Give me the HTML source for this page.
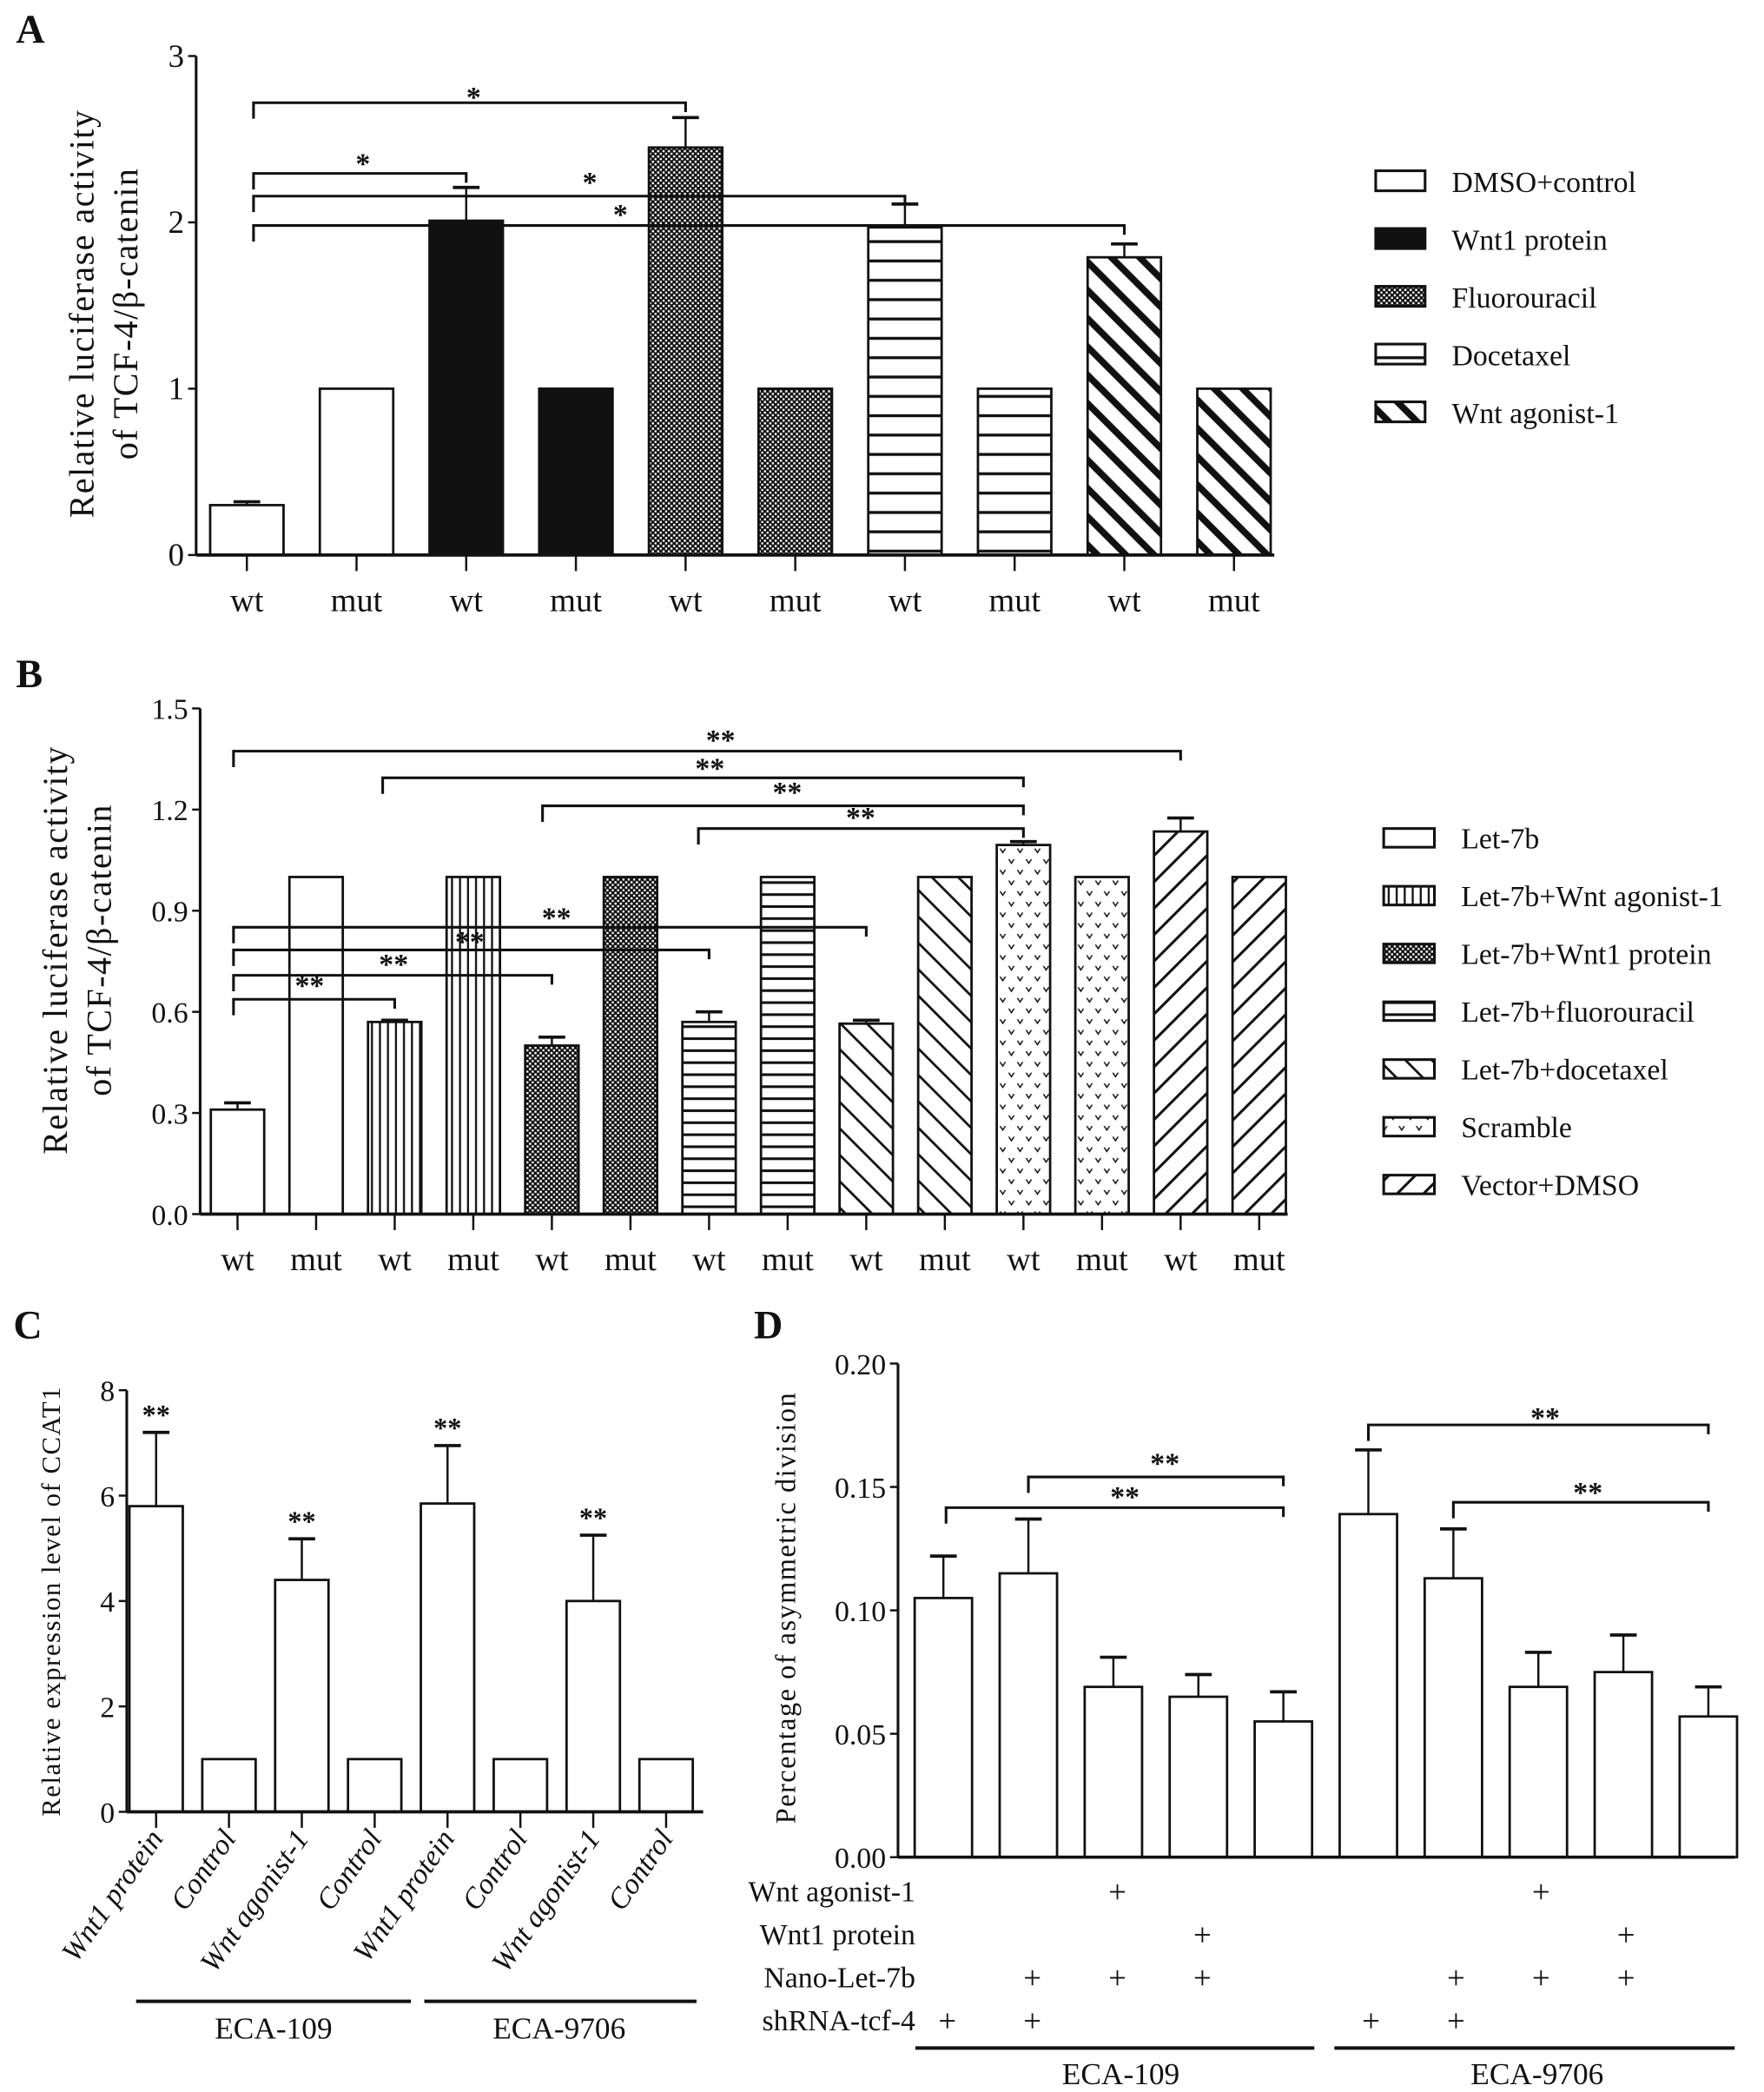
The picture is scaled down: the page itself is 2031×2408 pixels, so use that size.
<!DOCTYPE html>
<html><head><meta charset="utf-8"><style>
html,body{margin:0;padding:0;background:#fff}
svg{display:block}
text{font-family:"Liberation Serif",serif;fill:#111}
</style></head><body>
<svg id="fig" width="2031" height="2408" viewBox="0 0 1322 1568" preserveAspectRatio="none" xmlns="http://www.w3.org/2000/svg">
<defs>
<pattern id="p-check" width="4" height="4" patternUnits="userSpaceOnUse"><rect width="4" height="4" fill="#111"/><rect x="0.5" y="0.5" width="1.6" height="1.6" fill="#fff"/><rect x="2.5" y="2.5" width="1.6" height="1.6" fill="#fff"/></pattern>
<pattern id="p-hA" width="10" height="14.5" patternUnits="userSpaceOnUse"><rect width="10" height="14.5" fill="#fff"/><rect y="6" width="10" height="2.2" fill="#111"/></pattern>
<pattern id="p-hB" width="10" height="9" patternUnits="userSpaceOnUse"><rect width="10" height="9" fill="#fff"/><rect y="3.5" width="10" height="2" fill="#111"/></pattern>
<pattern id="p-bsA" width="15" height="15" patternUnits="userSpaceOnUse" patternTransform="rotate(-45)"><rect width="15" height="15" fill="#fff"/><rect x="0" width="5" height="15" fill="#111"/></pattern>
<pattern id="p-v" width="6" height="10" patternUnits="userSpaceOnUse"><rect width="6" height="10" fill="#fff"/><rect x="2" width="1.5" height="10" fill="#111"/></pattern>
<pattern id="p-bsB" width="14" height="14" patternUnits="userSpaceOnUse" patternTransform="rotate(-45)"><rect width="14" height="14" fill="#fff"/><rect width="1.8" height="14" fill="#111"/></pattern>
<pattern id="p-fsB" width="14" height="14" patternUnits="userSpaceOnUse" patternTransform="rotate(45)"><rect width="14" height="14" fill="#fff"/><rect width="2" height="14" fill="#111"/></pattern>
<pattern id="p-dots" width="13" height="16" patternUnits="userSpaceOnUse"><rect width="13" height="16" fill="#fff"/><path d="M2 4 L4 7 L6 4 M8.5 12 L10.5 15 L12.5 12" stroke="#111" stroke-width="1" fill="none"/></pattern>
</defs>
<g id="root"></g>
</svg>
<script>
// ---- Panel A data ----
const aCats = ["wt","mut","wt","mut","wt","mut","wt","mut","wt","mut"];
const aVals = [0.30,1,2.01,1,2.45,1,1.97,1,1.79,1];
const aErrs = [0.02,0,0.20,0,0.18,0,0.14,0,0.08,0];
const aTicks = ["0","1","2","3"];
const aLegend = ["DMSO+control","Wnt1 protein","Fluorouracil","Docetaxel","Wnt agonist-1"];
// ---- Panel B data ----
const bCats = ["wt","mut","wt","mut","wt","mut","wt","mut","wt","mut","wt","mut","wt","mut"];
const bVals = [0.31,1,0.57,1,0.50,1,0.57,1,0.565,1,1.095,1,1.135,1];
const bErrs = [0.02,0,0.005,0,0.025,0,0.03,0,0.01,0,0.01,0,0.04,0];
const bTicks = ["0.0","0.3","0.6","0.9","1.2","1.5"];
const bLegend = ["Let-7b","Let-7b+Wnt agonist-1","Let-7b+Wnt1 protein","Let-7b+fluorouracil","Let-7b+docetaxel","Scramble","Vector+DMSO"];
// ---- Panel C data ----
const cCats = ["Wnt1 protein","Control","Wnt agonist-1","Control","Wnt1 protein","Control","Wnt agonist-1","Control"];
const cVals = [5.8,1,4.4,1,5.85,1,4.0,1];
const cErrs = [1.4,0,0.78,0,1.1,0,1.25,0];
const cTicks = ["0","2","4","6","8"];
// ---- Panel D data ----
const dVals = [0.105,0.115,0.069,0.065,0.055,0.139,0.113,0.069,0.075,0.057];
const dErrs = [0.017,0.022,0.012,0.009,0.012,0.026,0.020,0.014,0.015,0.012];
const dTicks = ["0.00","0.05","0.10","0.15","0.20"];
const dRows = ["Wnt agonist-1","Wnt1 protein","Nano-Let-7b","shRNA-tcf-4"];
const dPlus = [[0,0,1,0,0,0,0,1,0,0],[0,0,0,1,0,0,0,0,1,0],[0,1,1,1,0,0,1,1,1,0],[1,1,0,0,0,1,1,0,0,0]];

const NS="http://www.w3.org/2000/svg";
const root=document.getElementById('root');
function el(tag,attrs,parent,txt){const e=document.createElementNS(NS,tag);for(const k in attrs)e.setAttribute(k,attrs[k]);if(txt!==undefined)e.textContent=txt;(parent||root).appendChild(e);return e;}
function line(x1,y1,x2,y2,w,p){return el('line',{x1,y1,x2,y2,stroke:'#111','stroke-width':w||1.8},p);}

function panel(o){
  const g=el('g',{});
  
  
  const ymax=o.tickMax;
  const Y=v=>o.y0-(v/ymax)*(o.y0-o.yTop);
  const X=i=>o.x0c+i*o.dx;
  o.vals.forEach((v,i)=>{
    const r=el('rect',{x:X(i)-o.bw/2,y:Y(v),width:o.bw,height:o.y0-Y(v),fill:o.fill(i),stroke:'#111','stroke-width':1.8},g);
    
    
    if(o.errs[i]>0){const t=Y(v+o.errs[i]);line(X(i),Y(v),X(i),t,1.6,g);line(X(i)-10,t,X(i)+10,t,2.4,g);}
  });
  const ax=el('g',{},g);
  
  
  line(o.ax,o.yTop,o.ax,o.y0,2,ax);
  line(o.ax,o.y0,o.axEnd,o.y0,2.4,ax);
  o.ticks.forEach((t,i)=>{const v=ymax*i/(o.ticks.length-1);const y=Y(v);line(o.ax-6,y,o.ax,y,1.6,ax);
    const tx=el('text',{x:o.ax-9,y:y+8,'text-anchor':'end','font-size':o.tfs},ax,t);
    
    });
  if(o.xticks) o.vals.forEach((v,i)=>line(X(i),o.y0,X(i),o.y0+12,1.6,ax));
  return {g,X,Y};
}
function bracket(p,g,i1,i2,y,x1off){const x1=p.X(i1)+(x1off||0),x2=p.X(i2);const b=el('path',{d:`M${x1} ${y+12} L${x1} ${y} L${x2} ${y} L${x2} ${y+7}`,stroke:'#111','stroke-width':2,fill:'none'},g);}
function star(g,x,y,s,fs){const t=el('text',{x,y,'text-anchor':'middle','font-size':fs||22,'font-weight':'bold'},g,s);}
function label(txt,x,y,fs,name,extra){const t=el('text',Object.assign({x,y,'font-size':fs},extra||{}),root,txt);return t;}
function vlabel(txt,x,y,fs,name){return label(txt,x,y,fs,name,{'text-anchor':'middle',transform:`rotate(-90 ${x} ${y})`,'font-family':'Liberation Sans, sans-serif','letter-spacing':'1'});}

// ===== Panel A =====
const aFills=['#fff','#111','url(#p-check)','url(#p-hA)','url(#p-bsA)'];
const pA=panel({name:'panel-a-chart',vals:aVals,errs:aErrs,ticks:aTicks,tickMax:3,y0:416,yTop:42,x0c:185,dx:82.2,bw:55,ax:147,axEnd:955,tfs:24,xticks:true,fill:i=>aFills[Math.floor(i/2)]});
aCats.forEach((c,i)=>{const t=el('text',{x:pA.X(i),y:458,'text-anchor':'middle','font-size':25},pA.g,c);});
bracket(pA,pA.g,0,4,77,5);star(pA.g,355,80,'*');
bracket(pA,pA.g,0,2,130,5);star(pA.g,272,130,'*');
bracket(pA,pA.g,0,6,147,5);star(pA.g,442,144,'*');
bracket(pA,pA.g,0,8,169,5);star(pA.g,465,168,'*');
aLegend.forEach((n,i)=>{const y=136+i*43.3;const g=el('g',{});
  el('rect',{x:1031,y:y-8,width:37,height:15,fill:aFills[i],stroke:'#111','stroke-width':2},g);
  el('text',{x:1088,y:y+8,'font-size':22},g,n);});
label('A',12,32,30,'panel-a-label',{'font-weight':'bold'});
vlabel('Relative luciferase activity',70,235,26,'y-axis-title');
vlabel('of TCF-4/β-catenin',103,235,26,'y-axis-title');

// ===== Panel B =====
const bFills=['#fff','url(#p-v)','url(#p-check)','url(#p-hB)','url(#p-bsB)','url(#p-dots)','url(#p-fsB)'];
const pB=panel({name:'panel-b-chart',vals:bVals,errs:bErrs,ticks:bTicks,tickMax:1.5,y0:910,yTop:531,x0c:178,dx:58.9,bw:40,ax:150,axEnd:965,tfs:22,xticks:true,fill:i=>bFills[Math.floor(i/2)]});
bCats.forEach((c,i)=>{const t=el('text',{x:pB.X(i),y:952,'text-anchor':'middle','font-size':25},pB.g,c);});
bracket(pB,pB.g,0,12,563,-3);star(pB.g,540,562,'**');
bracket(pB,pB.g,2,10,583,-9);star(pB.g,532,583,'**');
bracket(pB,pB.g,4,10,604,-7);star(pB.g,590,601,'**');
bracket(pB,pB.g,6,10,621,-8);star(pB.g,645,620,'**');
bracket(pB,pB.g,0,8,695,-3);star(pB.g,417,695,'**');
bracket(pB,pB.g,0,6,712,-3);star(pB.g,352,713,'**');
bracket(pB,pB.g,0,4,731,-3);star(pB.g,295,730,'**');
bracket(pB,pB.g,0,2,749,-3);star(pB.g,232,746,'**');
bLegend.forEach((n,i)=>{const y=628+i*43.3;const g=el('g',{});
  el('rect',{x:1037,y:y-7,width:38,height:14,fill:bFills[i],stroke:'#111','stroke-width':2},g);
  el('text',{x:1095,y:y+8,'font-size':22},g,n);});
label('B',12,515,30,'panel-b-label',{'font-weight':'bold'});
vlabel('Relative luciferase activity',50,712,26,'y-axis-title');
vlabel('of TCF-4/β-catenin',83,712,26,'y-axis-title');

// ===== Panel C =====
const pC=panel({name:'panel-c-chart',vals:cVals,errs:cErrs,ticks:cTicks,tickMax:8,y0:1358,yTop:1042,x0c:117,dx:54.6,bw:40,ax:95,axEnd:527,tfs:22,xticks:true,fill:i=>'#fff'});
cVals.forEach((v,i)=>{if(cErrs[i]>0)star(pC.g,pC.X(i),pC.Y(v+cErrs[i])-6,'**',21);});
cCats.forEach((c,i)=>{const x=pC.X(i)+6,y=1378;const t=el('text',{x,y,'text-anchor':'end','font-size':22,'font-style':'italic',transform:`rotate(-55 ${x} ${y})`},pC.g,c);});
line(102,1500,308,1500,2.6);line(318,1500,522,1500,2.6);
label('ECA-109',205,1528,23,'group-label',{'text-anchor':'middle'});
label('ECA-9706',419,1528,23,'group-label',{'text-anchor':'middle'});
label('C',10,1003,30,'panel-c-label',{'font-weight':'bold'});
vlabel('Relative expression level of CCAT1',45,1200,20,'y-axis-title');

// ===== Panel D =====
const pD=panel({name:'panel-d-chart',vals:dVals,errs:dErrs,ticks:dTicks,tickMax:0.2,y0:1392,yTop:1022,x0c:707,dx:63.7,bw:43,ax:673,axEnd:1300,tfs:22,xticks:false,fill:i=>'#fff'});
bracket(pD,pD.g,1,4,1107,0);star(pD.g,873,1104,'**');
bracket(pD,pD.g,0,4,1130,2);star(pD.g,843,1129,'**');
bracket(pD,pD.g,5,9,1068,0);star(pD.g,1158,1070,'**');
bracket(pD,pD.g,6,9,1126,0);star(pD.g,1190,1126,'**');
dRows.forEach((r,ri)=>{const y=1418+ri*32.3;label(r,686,y+7,22,'row-label',{'text-anchor':'end'});
  dPlus[ri].forEach((p,i)=>{if(p){const t=el('text',{x:pD.X(i)+(i<5?3:2),y:y+8,'text-anchor':'middle','font-size':24},pD.g,'+');}});});
line(686,1535,985,1535,2.6);line(1000,1535,1300,1535,2.6);
label('ECA-109',840,1562,23,'group-label',{'text-anchor':'middle'});
label('ECA-9706',1152,1562,23,'group-label',{'text-anchor':'middle'});
label('D',565,1003,30,'panel-d-label',{'font-weight':'bold'});
vlabel('Percentage of asymmetric division',596,1205,21,'y-axis-title');
</script>
</body></html>
